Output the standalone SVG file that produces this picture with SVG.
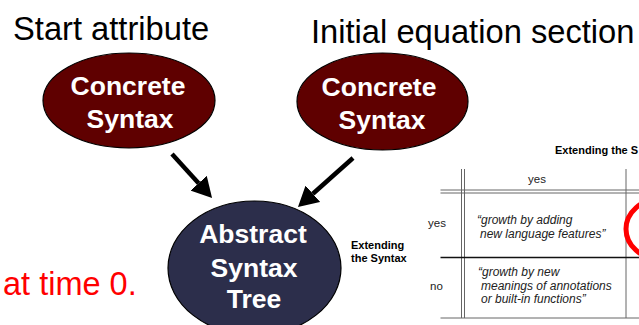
<svg xmlns="http://www.w3.org/2000/svg" width="639" height="325" viewBox="0 0 639 325">
  <style>
    .title { font-family: "Liberation Sans", Arial, sans-serif; font-size: 32.7px; fill: #000; }
    .node-label { font-family: "Liberation Sans", Arial, sans-serif; font-size: 26.5px; font-weight: bold; fill: #fff; text-anchor: middle; }
    .concrete { fill: #5f0000; stroke: #000; stroke-width: 1.2; }
    .abstract { fill: #2c2e4b; stroke: #000; stroke-width: 1.2; }
    .edge { stroke: #000; stroke-width: 4.5; fill: none; }
    .small-bold { font-family: "Liberation Sans", Arial, sans-serif; font-size: 11px; font-weight: bold; fill: #000; }
    .cell { font-family: "Liberation Sans", Arial, sans-serif; font-size: 11.5px; fill: #222; }
    .cell-it { font-family: "Liberation Sans", Arial, sans-serif; font-size: 12px; font-style: italic; fill: #222; }
    .rule-grey { stroke: #666; stroke-width: 1; }
    .rule-dark { stroke: #111; stroke-width: 1.3; }
  </style>
  <defs>
    <marker id="arrowhead" markerUnits="userSpaceOnUse" viewBox="0 0 20 22" refX="0" refY="11" markerWidth="20" markerHeight="22" orient="auto">
      <path d="M0,0 L20,11 L0,22 Z" fill="#000"/>
    </marker>
  </defs>

  <rect width="639" height="325" fill="#fff"/>

  <!-- headings -->
  <text class="title" x="13" y="40">Start attribute</text>
  <text class="title" x="311" y="43">Initial equation section</text>
  <text x="3" y="295" font-family="'Liberation Sans', Arial, sans-serif" font-size="32.5" fill="#ff0000">at time 0.</text>

  <!-- connectors -->
  <g id="connectors">
    <line class="edge" x1="172" y1="154" x2="198.6" y2="183.2" marker-end="url(#arrowhead)"/>
    <line class="edge" x1="353" y1="158" x2="312.9" y2="193.7" marker-end="url(#arrowhead)"/>
  </g>

  <g id="concrete-syntax-1">
    <ellipse class="concrete" cx="129" cy="100.5" rx="86" ry="47.5"/>
    <text class="node-label" x="128" y="94.5">Concrete</text>
    <text class="node-label" x="130" y="128">Syntax</text>
  </g>

  <g id="concrete-syntax-2">
    <ellipse class="concrete" cx="382.5" cy="101.5" rx="85.5" ry="48.5"/>
    <text class="node-label" x="379" y="95.5">Concrete</text>
    <text class="node-label" x="382" y="128.5">Syntax</text>
  </g>

  <g id="abstract-syntax-tree">
    <ellipse class="abstract" cx="254.5" cy="268" rx="86.5" ry="67"/>
    <text class="node-label" x="253" y="243">Abstract</text>
    <text class="node-label" x="254" y="276.5">Syntax</text>
    <text class="node-label" x="254" y="308">Tree</text>
  </g>

  <!-- side label -->
  <text class="small-bold" x="351" y="249">Extending</text>
  <text class="small-bold" x="351" y="261.5">the Syntax</text>

  <!-- extension table -->
  <g id="extension-table">
    <text class="small-bold" x="555" y="154">Extending the S</text>

    <line class="rule-grey" x1="461.5" y1="169" x2="461.5" y2="318"/>
    <line class="rule-grey" x1="464.5" y1="169" x2="464.5" y2="318"/>
    <line class="rule-grey" x1="626" y1="169" x2="626" y2="318"/>
    <line class="rule-grey" x1="440.5" y1="190" x2="639" y2="190"/>
    <line class="rule-grey" x1="440.5" y1="193" x2="639" y2="193"/>
    <line class="rule-dark" x1="440.5" y1="257.5" x2="639" y2="257.5"/>
    <line class="rule-grey" x1="440.5" y1="318" x2="639" y2="318"/>

    <text class="cell" x="537" y="183" text-anchor="middle">yes</text>
    <text class="cell" x="428" y="227">yes</text>
    <text class="cell" x="430" y="290">no</text>

    <text class="cell-it" x="477" y="224">“growth by adding</text>
    <text class="cell-it" x="480" y="238">new language features”</text>

    <text class="cell-it" x="478" y="276">“growth by new</text>
    <text class="cell-it" x="481" y="289.5">meanings of annotations</text>
    <text class="cell-it" x="481" y="303">or built-in functions”</text>

    <ellipse cx="660" cy="229" rx="34" ry="30" fill="none" stroke="#ff0000" stroke-width="5"/>
  </g>
</svg>
